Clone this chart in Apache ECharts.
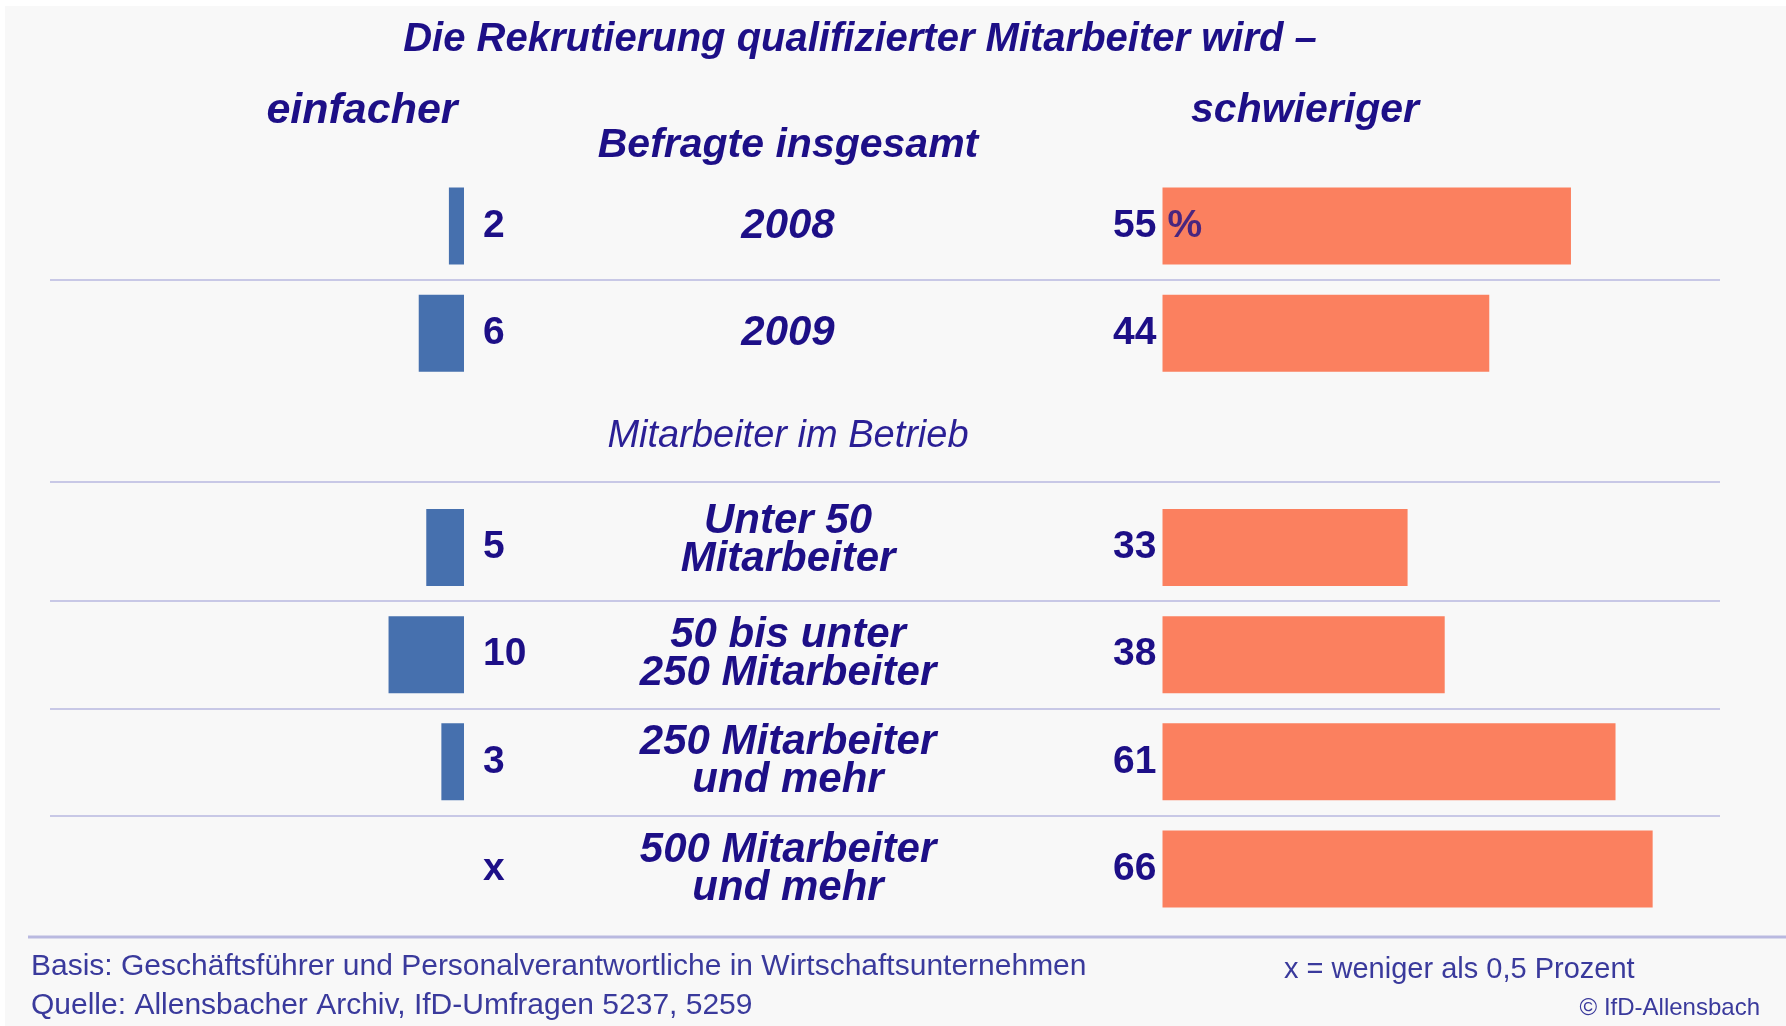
<!DOCTYPE html>
<html>
<head>
<meta charset="utf-8">
<script src="https://cdn.jsdelivr.net/npm/echarts@6/dist/echarts.min.js"></script>
<style>
html,body{margin:0;padding:0;background:#fff;}
#chart{width:1786px;height:1026px;}
</style>
</head>
<body>
<div id="chart"></div>
<script>
// ---- data ----
const categories = ['2008', '2009', 'Mitarbeiter im Betrieb', 'Unter 50\nMitarbeiter', '50 bis unter\n250 Mitarbeiter', '250 Mitarbeiter\nund mehr', '500 Mitarbeiter\nund mehr'];
const easierValues = [2, 6, null, 5, 10, 3, 0];
const easierLabels = ['2', '6', '', '5', '10', '3', 'x'];
const harderValues = [55, 44, null, 33, 38, 61, 66];
const harderLabels = ['55', '44', '', '33', '38', '61', '66'];

const NAVY = '#1d0f87';
const FOOT = '#3a3a9c';
const FONT = '"Liberation Sans Narrow", "Liberation Sans", sans-serif';
const FONT2 = '"Liberation Sans", sans-serif';

const gridTop = 172.4, gridBottom = 103.4;

const chart = echarts.init(document.getElementById('chart'), null, {renderer: 'canvas'});
const option = {
  backgroundColor: '#f8f8f8',
  animation: false,
  grid: [
    {left: 49, right: 1786 - 464, top: gridTop, bottom: gridBottom},
    {left: 1162.5, right: 1786 - 1719.5, top: gridTop, bottom: gridBottom},
    {left: 50, right: 1786 - 1720, top: gridTop, bottom: gridBottom}
  ],
  xAxis: [
    {gridIndex: 0, type: 'value', min: 0, max: 55, inverse: true, show: false},
    {gridIndex: 1, type: 'value', min: 0, max: 75, show: false},
    {gridIndex: 2, type: 'value', min: 0, max: 1, show: false}
  ],
  yAxis: [
    {
      gridIndex: 0, type: 'category', data: categories, inverse: true, position: 'right',
      axisLine: {show: false, onZero: false}, axisTick: {show: false}, splitLine: {show: false},
      axisLabel: {
        margin: 324, align: 'center', verticalAlign: 'middle',
        formatter: function (v, i) {
          if (i === 2) return '{sub|' + v + '}';
          const st = i === 3 ? 'catUp' : 'cat';
          return '{' + st + '|' + v.split('\n').join('}\n{' + st + '|') + '}';
        },
        rich: {
          cat: {fontFamily: FONT, fontStyle: 'italic', fontWeight: 'bold', fontSize: 42, color: NAVY, lineHeight: 38, align: 'center'},
          catUp: {fontFamily: FONT, fontStyle: 'italic', fontWeight: 'bold', fontSize: 42, color: NAVY, lineHeight: 38, align: 'center', padding: [0, 0, 15, 0]},
          sub: {fontFamily: FONT2, fontStyle: 'italic', fontWeight: 'normal', fontSize: 38, color: '#2a1f95', align: 'center', padding: [0, 0, 8, 0]}
        }
      }
    },
    {gridIndex: 1, type: 'category', data: categories, inverse: true, show: false},
    {gridIndex: 2, type: 'value', min: -0.5, max: 6.5, inverse: true, show: false}
  ],
  series: [
    {
      type: 'bar', xAxisIndex: 0, yAxisIndex: 0, data: easierValues, barWidth: 77,
      itemStyle: {color: '#4670ae'},
      label: {
        show: true, position: 'right', distance: 19,
        formatter: function (p) { return easierLabels[p.dataIndex]; },
        fontFamily: FONT2, fontWeight: 'bold', fontSize: 39, color: NAVY
      }
    },
    {
      type: 'bar', xAxisIndex: 1, yAxisIndex: 1, data: harderValues, barWidth: 77,
      itemStyle: {color: '#fb805f'},
      label: {
        show: true, position: 'left', distance: 6,
        formatter: function (p) { return harderLabels[p.dataIndex]; },
        fontFamily: FONT2, fontWeight: 'bold', fontSize: 39, color: NAVY
      }
    },
    {
      type: 'scatter', xAxisIndex: 1, yAxisIndex: 1, data: [[0, '2008']], symbolSize: 0,
      label: {show: true, position: 'right', distance: 5, formatter: '%',
        fontFamily: FONT2, fontWeight: 'bold', fontSize: 39, color: NAVY}
    },
    {
      type: 'line', xAxisIndex: 2, yAxisIndex: 2, data: [], silent: true,
      markLine: {
        silent: true, symbol: 'none', label: {show: false},
        lineStyle: {color: '#c8c8e6', width: 2, type: 'solid'},
        data: [{yAxis: 0.5}, {yAxis: 2.39}, {yAxis: 3.5}, {yAxis: 4.5}, {yAxis: 5.5}]
      }
    }
  ],
  graphic: [
    {type: 'rect', shape: {x: 0, y: 0, width: 1786, height: 6}, style: {fill: '#ffffff'}, silent: true},
    {type: 'rect', shape: {x: 0, y: 0, width: 5, height: 1026}, style: {fill: '#ffffff'}, silent: true},
    {type: 'line', shape: {x1: 28, y1: 937, x2: 1786, y2: 937}, style: {stroke: '#b9b9e0', lineWidth: 3}, silent: true},
    {type: 'text', x: 860, y: 40, style: {text: 'Die Rekrutierung qualifizierter Mitarbeiter wird –', font: 'italic bold 40px ' + FONT, fill: NAVY, textAlign: 'center', textVerticalAlign: 'middle'}},
    {type: 'text', x: 362, y: 111, style: {text: 'einfacher', font: 'italic bold 43px ' + FONT, fill: NAVY, textAlign: 'center', textVerticalAlign: 'middle'}},
    {type: 'text', x: 1305, y: 111, style: {text: 'schwieriger', font: 'italic bold 41px ' + FONT, fill: NAVY, textAlign: 'center', textVerticalAlign: 'middle'}},
    {type: 'text', x: 788, y: 146, style: {text: 'Befragte insgesamt', font: 'italic bold 41px ' + FONT, fill: NAVY, textAlign: 'center', textVerticalAlign: 'middle'}},
    {type: 'text', x: 31, y: 967, style: {text: 'Basis: Geschäftsführer und Personalverantwortliche in Wirtschaftsunternehmen', font: '30px ' + FONT, fill: FOOT, textAlign: 'left', textVerticalAlign: 'middle'}},
    {type: 'text', x: 31, y: 1006, style: {text: 'Quelle: Allensbacher Archiv, IfD-Umfragen 5237, 5259', font: '30px ' + FONT, fill: FOOT, textAlign: 'left', textVerticalAlign: 'middle'}},
    {type: 'text', x: 1284, y: 970, style: {text: 'x = weniger als 0,5 Prozent', font: '29px ' + FONT, fill: FOOT, textAlign: 'left', textVerticalAlign: 'middle'}},
    {type: 'text', x: 1760, y: 1008, style: {text: '© IfD-Allensbach', font: '24px ' + FONT, fill: FOOT, textAlign: 'right', textVerticalAlign: 'middle'}}
  ]
};
chart.setOption(option);
</script>
</body>
</html>
